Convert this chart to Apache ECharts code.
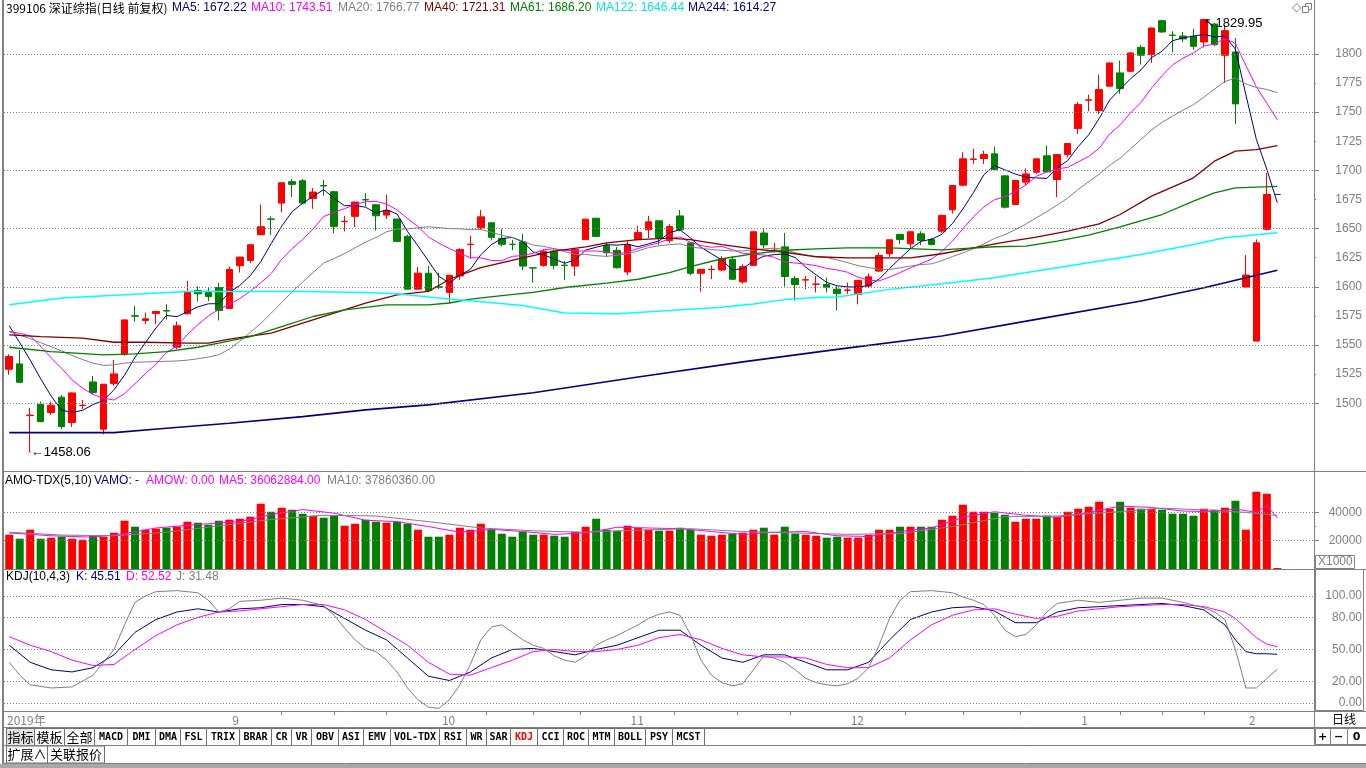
<!DOCTYPE html>
<html>
<head>
<meta charset="utf-8">
<script src="https://cdn.jsdelivr.net/npm/echarts/dist/echarts.min.js"></script>
<style>
html,body{margin:0;padding:0;background:#ffffff;overflow:hidden;}
#chart{width:1366px;height:768px;}
</style>
</head>
<body>
<div id="chart"></div>
<script>
// ---------------- trading calendar (categories) ----------------
const monthKeys = ['2019-08','2019-09','2019-10','2019-11','2019-12','2020-01','2020-02'];
const monthDays = [
  [2,5,6,7,8,9,12,13,14,15,16,19,20,21,22,23,26,27,28,29,30],
  [2,3,4,5,6,9,10,11,12,16,17,18,19,20,23,24,25,26,27,30],
  [8,9,10,11,14,15,16,17,18,21,22,23,24,25,28,29,30,31],
  [1,4,5,6,7,8,11,12,13,14,15,18,19,20,21,22,25,26,27,28,29],
  [2,3,4,5,6,9,10,11,12,13,16,17,18,19,20,23,24,25,26,27,30,31],
  [2,3,6,7,8,9,10,13,14,15,16,17,20,21,22,23],
  [3,4,5,6]
];
const categories = [];
monthKeys.forEach((m,k)=>monthDays[k].forEach(d=>categories.push(m+'-'+(d<10?'0'+d:d))));

// ---------------- price data (OHLC) ----------------
const opens = [1529.2,1533.8,1489.4,1499.1,1492.0,1505.2,1483.4,1498.0,1518.3,1477.7,
1516.9,1542.1,1575.2,1571.1,1577.1,1579.6,1548.1,1576.8,1596.8,1596.0,
1599.4,1581.4,1618.1,1622.6,1644.7,1658.3,1671.9,1690.3,1691.1,1675.9,
1687.0,1681.7,1656.0,1660.5,1675.0,1670.5,1661.6,1658.2,1643.3,1598.0,
1611.7,1600.0,1595.2,1609.3,1636.3,1650.7,1655.0,1641.6,1636.6,1638.5,
1616.3,1618.4,1630.6,1618.6,1617.8,1640.5,1658.9,1635.4,1631.4,1612.7,
1640.5,1649.0,1656.7,1639.7,1660.9,1637.7,1611.6,1614.8,1614.4,1623.5,
1604.2,1618.4,1646.2,1631.3,1634.3,1607.1,1605.8,1602.2,1602.0,1598.0,
1597.0,1593.5,1600.6,1613.5,1628.4,1645.0,1636.9,1645.5,1640.7,1647.8,
1666.1,1687.3,1709.4,1710.2,1714.2,1695.3,1670.7,1689.9,1698.5,1712.5,
1692.2,1713.6,1735.9,1760.3,1751.4,1772.3,1783.7,1785.1,1805.7,1799.4,
1828.6,1816.2,1815.4,1815.2,1810.3,1825.7,1798.9,1801.7,1599.8,1553.4,
1649.3,1679.3];
const closes = [1540.1,1518.0,1489.8,1484.2,1498.3,1479.9,1508.9,1498.3,1509.2,1516.3,
1525.2,1571.6,1574.8,1572.5,1578.8,1579.2,1566.5,1595.7,1594.0,1591.7,
1579.7,1614.9,1625.5,1636.1,1651.6,1658.0,1689.4,1688.0,1671.9,1681.4,
1686.6,1651.9,1656.3,1672.8,1674.6,1661.0,1665.6,1639.0,1598.0,1611.7,
1596.8,1599.6,1609.9,1632.0,1636.6,1660.1,1642.5,1636.5,1636.4,1617.8,
1616.1,1630.6,1618.4,1618.3,1632.0,1658.1,1643.3,1629.2,1616.4,1636.3,
1646.7,1655.8,1641.9,1651.8,1649.0,1611.6,1615.0,1615.1,1624.1,1606.5,
1617.3,1647.3,1636.0,1631.5,1608.8,1602.0,1606.1,1602.4,1599.7,1594.1,
1597.3,1605.5,1608.6,1626.9,1640.4,1640.7,1647.3,1639.8,1636.4,1661.3,
1687.0,1709.9,1709.8,1713.6,1700.7,1668.4,1691.3,1697.0,1709.9,1698.7,
1713.6,1723.1,1756.5,1760.6,1769.4,1792.3,1770.3,1800.9,1798.9,1822.3,
1818.9,1816.0,1812.9,1806.6,1829.5,1808.0,1820.0,1757.1,1610.1,1637.8,
1679.3,1679.3];
const lows = [1524.4,1518.0,1458.06,1483.6,1490.0,1477.7,1479.7,1495.1,1507.2,1473.3,
1514.9,1540.7,1570.2,1568.2,1567.9,1571.9,1546.4,1576.5,1587.4,1587.7,
1571.1,1581.1,1612.3,1620.3,1644.5,1644.7,1663.9,1677.1,1671.7,1667.0,
1678.2,1646.1,1647.6,1651.3,1669.1,1648.4,1658.2,1638.8,1597.8,1597.8,
1596.6,1598.0,1586.1,1606.0,1624.1,1649.0,1639.9,1634.8,1631.4,1614.4,
1603.7,1617.3,1615.0,1606.0,1609.3,1640.2,1643.0,1625.8,1615.6,1609.9,
1640.2,1641.9,1636.3,1637.7,1647.6,1609.9,1595.8,1606.5,1613.3,1606.0,
1602.8,1618.1,1633.4,1629.2,1600.3,1588.1,1598.0,1595.2,1595.2,1579.6,
1593.8,1584.9,1599.2,1612.6,1626.1,1636.9,1633.5,1635.8,1635.5,1646.4,
1663.0,1686.2,1705.6,1705.6,1700.5,1667.3,1670.1,1687.3,1697.0,1698.5,
1677.0,1711.3,1731.3,1750.8,1748.5,1772.0,1765.7,1784.6,1790.8,1792.3,
1818.0,1801.4,1810.3,1803.7,1805.7,1806.6,1775.1,1739.9,1599.6,1553.2,
1648.4,1679.3];
const highs = [1542.1,1545.8,1496.0,1501.4,1501.4,1506.9,1509.2,1502.9,1523.5,1516.6,
1537.2,1571.9,1583.7,1577.9,1579.1,1585.1,1570.2,1605.2,1600.3,1598.9,
1603.4,1617.5,1625.8,1636.4,1670.5,1660.5,1689.7,1692.6,1692.6,1684.8,
1692.0,1682.0,1661.0,1673.1,1680.5,1670.8,1679.1,1658.5,1644.7,1616.9,
1618.1,1612.2,1610.2,1633.1,1643.9,1666.0,1655.3,1649.6,1640.5,1645.6,
1616.5,1632.0,1632.0,1622.1,1633.4,1658.4,1659.2,1637.7,1634.3,1639.1,
1652.4,1660.9,1657.0,1654.1,1666.0,1638.0,1615.3,1618.4,1626.3,1626.3,
1619.3,1647.6,1649.6,1637.7,1646.2,1609.3,1609.3,1609.3,1607.9,1600.3,
1603.7,1605.8,1611.5,1629.2,1640.7,1645.5,1647.6,1647.8,1642.1,1662.1,
1687.3,1715.6,1718.5,1717.0,1720.5,1695.6,1691.6,1701.6,1710.2,1721.3,
1713.9,1723.4,1758.8,1765.1,1782.3,1792.6,1794.3,1801.4,1807.4,1822.6,
1829.5,1819.5,1818.9,1821.7,1829.95,1826.6,1824.6,1813.7,1627.2,1640.7,
1697.9,1679.3];

// ---------------- moving averages ----------------
const ma5 = [1566.5,1552,1537,1521,1506.1,1494.0,1492.2,1493.9,1498.9,1502.5,
1511.6,1524.1,1539.4,1552.1,1564.6,1575.4,1574.4,1578.5,1582.8,1585.4,
1585.5,1595.2,1601.2,1609.6,1621.6,1637.2,1652.1,1664.6,1671.8,1677.7,
1683.5,1676.0,1669.6,1669.8,1668.4,1663.3,1666.1,1662.6,1647.6,1635.1,
1622.2,1609.0,1603.2,1610.0,1615.0,1627.6,1636.2,1641.5,1642.4,1638.7,
1629.9,1627.5,1623.9,1620.2,1623.1,1631.5,1634.0,1636.2,1635.8,1636.7,
1634.4,1636.9,1639.4,1646.5,1649.0,1642.0,1633.9,1628.5,1623.0,1614.5,
1615.6,1622.1,1626.2,1627.7,1628.2,1625.1,1616.9,1610.2,1603.8,1600.9,
1599.9,1599.8,1601.0,1606.5,1615.7,1624.4,1632.8,1639.0,1640.9,1645.1,
1654.4,1666.9,1680.9,1696.3,1704.2,1700.5,1696.8,1694.2,1693.5,1693.1,
1702.1,1708.5,1720.4,1730.5,1744.6,1760.4,1769.8,1778.7,1786.4,1796.9,
1802.3,1811.4,1813.8,1815.3,1816.8,1814.6,1815.4,1804.2,1764.9,1726.6,
1700.9,1672.2];
const ma10 = [1561.6,1560,1557.9,1549,1539,1530,1520,1513,1507.5,1504.3,
1502.8,1508.2,1516.7,1525.5,1533.6,1543.5,1549.2,1559.0,1567.5,1575.0,
1580.5,1584.8,1589.9,1596.2,1603.5,1611.4,1623.7,1632.9,1640.7,1649.7,
1660.3,1664.0,1667.1,1670.8,1673.1,1673.4,1671.0,1666.1,1658.7,1651.8,
1642.8,1637.5,1632.9,1628.8,1625.0,1624.9,1622.6,1622.4,1626.2,1626.8,
1628.8,1631.9,1632.7,1631.3,1630.9,1630.7,1630.8,1630.0,1628.0,1629.9,
1632.9,1635.5,1637.8,1641.2,1642.9,1638.2,1635.4,1634.0,1634.7,1631.8,
1628.8,1628.0,1627.4,1625.3,1621.3,1620.4,1619.5,1618.2,1615.8,1614.5,
1612.5,1608.3,1605.6,1605.1,1608.3,1612.2,1616.3,1620.0,1623.7,1630.4,
1639.4,1649.8,1660.0,1668.6,1674.7,1677.4,1681.8,1687.5,1694.9,1698.6,
1701.3,1702.6,1707.3,1712.0,1718.9,1731.2,1739.1,1749.5,1758.4,1770.8,
1781.3,1790.6,1796.3,1800.9,1806.9,1808.4,1813.4,1809.0,1790.1,1771.7,
1757.7,1743.5];
const ma20 = [1561.6,1558.5,1555.5,1552,1548.5,1545,1541,1537.5,1534.4,1532.5,
1533,1534.5,1535.2,1535.5,1535.8,1536,1536.3,1537,1538.2,1539.7,
1541.6,1546.5,1553.3,1560.9,1568.5,1577.4,1586.5,1595.9,1604.1,1612.3,
1620.4,1624.4,1628.5,1633.5,1638.3,1642.4,1647.3,1649.5,1649.7,1650.7,
1651.6,1650.8,1650.0,1649.8,1649.1,1649.2,1646.8,1644.2,1642.5,1639.3,
1635.8,1634.7,1632.8,1630.1,1627.9,1627.8,1626.7,1626.2,1627.1,1628.3,
1630.8,1633.7,1635.3,1636.2,1636.9,1634.4,1633.1,1632.0,1631.4,1630.8,
1630.9,1631.7,1632.6,1633.2,1632.1,1629.3,1627.4,1626.1,1625.2,1623.1,
1620.7,1618.2,1616.5,1615.2,1614.8,1616.3,1617.9,1619.1,1619.7,1622.5,
1626.0,1629.1,1632.8,1636.9,1641.5,1644.8,1649.1,1653.8,1659.3,1664.5,
1670.3,1676.2,1683.6,1690.3,1696.8,1704.3,1710.5,1718.5,1726.7,1734.7,
1741.3,1746.6,1751.8,1756.4,1762.9,1769.8,1776.3,1779.3,1774.3,1771.2,
1769.5,1766.8];
// long averages: [bar index, value] pairs
const ma40 = [[0,1558.7],[3,1557.3],[7,1555.9],[10,1552.4],[13,1552.4],[17,1551.6],[19,1551.6],[21,1555],[25,1560.2],[28,1568.8],[31,1577.4],[34,1586],[37,1593.1],[40,1596],[42,1606.5],[45,1616.4],[49,1624.9],[52,1630.6],[55,1634.3],[57,1637.7],[60,1640.5],[63,1641.9],[65,1640.5],[68,1636.3],[71,1632.6],[74,1629.7],[77,1625.8],[80,1624.9],[82,1624.9],[86,1624.9],[89,1628.4],[92,1633.5],[95,1638.4],[98,1642.7],[101,1647.8],[104,1654.1],[106,1662.1],[109,1677.9],[113,1693.6],[115,1707.9],[117,1716.5],[119,1717.9],[121,1721.3]];
const ma61 = [[0,1548.1],[4,1544.4],[9,1541.5],[12,1542.4],[15,1544.4],[18,1548.1],[20,1551.6],[23,1557.3],[26,1565.9],[29,1574.5],[32,1580.2],[36,1584.5],[40,1584.5],[42,1586.1],[44,1589.5],[47,1592.4],[50,1595.2],[53,1599.4],[57,1603.1],[60,1606.5],[63,1612.2],[65,1617.3],[68,1624.1],[71,1628.3],[74,1631.4],[77,1632.6],[80,1633.4],[84,1633.5],[89,1631.8],[94,1634.4],[97,1634.9],[100,1639.2],[103,1644.4],[106,1651.5],[110,1662.1],[113,1673.6],[115,1680.7],[117,1685],[121,1686.2]];
const ma122 = [[0,1584.5],[5,1590.3],[12,1593.7],[17,1596],[21,1596],[28,1596],[34,1595.2],[37,1594.1],[40,1591.2],[42,1589.5],[44,1588.1],[49,1583.9],[53,1577.6],[58,1576.8],[63,1579.6],[68,1582.4],[71,1585.3],[74,1589],[77,1590.9],[79,1591.2],[84,1597.8],[89,1602.6],[94,1607.8],[98,1613.5],[103,1620.7],[108,1627.8],[113,1636.4],[116,1642.1],[121,1646.4]];
const ma244 = [[0,1474.8],[10,1474.8],[15,1478.5],[21,1482.8],[28,1488.5],[34,1494.3],[40,1498.6],[50,1509],[60,1522.5],[70,1535.5],[79,1546.3],[89,1557.7],[98,1572],[108,1587.8],[114,1599.2],[121,1614.3]];

// ---------------- amount (x1000) ----------------
const amount = [24240,21410,27770,21410,22120,22830,21410,20700,23530,22830,
25650,34130,29890,27770,28480,29190,29890,33430,32720,31310,
34130,34840,35550,36960,46150,40490,43320,41910,39080,37670,
36260,37670,30600,32010,34840,33430,32720,33430,32010,27770,
22830,22830,24240,29190,27770,32010,27770,24950,22830,26360,
24240,24240,23530,22830,26360,29890,35550,27770,27070,30600,
29190,27770,27070,27070,29190,27770,24240,23530,24240,24950,
25650,27770,29190,24240,29890,24950,24240,23530,22120,22830,
22120,22120,24240,27770,27770,29890,29890,29890,29890,34840,
37670,45440,40490,40490,39790,38370,33430,35550,35550,37670,
36960,40490,42610,44030,47560,42610,47560,43320,42610,42610,
41910,39080,39080,37670,42610,41910,43320,48270,27770,54630,
53220,0];
const amoMa5 = [[0,25500],[4,23500],[8,22500],[11,25000],[14,29000],[18,31500],[22,33500],[25,38500],[28,42000],[31,39500],[34,34500],[37,33500],[40,30000],[43,26000],[46,28000],[49,26500],[52,24500],[55,25500],[58,29500],[61,29000],[64,28500],[67,26500],[70,24500],[73,26000],[76,26500],[79,23500],[82,23000],[85,26500],[88,29000],[91,36500],[94,40500],[97,38000],[100,36500],[103,40000],[106,44500],[109,43500],[112,41000],[115,40500],[117,42500],[119,40000],[120,45000],[121,36063]];
const amoMa10 = [[0,26000],[5,24000],[10,23500],[15,26000],[20,30500],[25,35000],[30,38000],[35,37500],[40,33500],[45,29000],[50,27000],[55,26000],[60,27500],[65,28500],[70,26500],[75,25500],[80,24500],[85,25000],[90,30000],[95,37000],[100,37500],[105,40000],[110,43000],[115,41500],[118,40000],[121,37860]];

// ---------------- KDJ ----------------
const kdjK = [[0,54],[2,38],[4,31],[6,29],[8,33],[10,45],[12,66],[14,78],[16,85],[18,88],[20,85],[22,88],[24,89],[26,92],[28,92],[30,90],[32,79],[34,68],[36,59],[38,42],[40,25],[42,21],[44,29],[46,42],[48,50],[50,51],[52,48],[54,45],[56,50],[58,54],[60,61],[62,68],[64,68],[66,54],[68,42],[70,38],[72,45],[74,45],[76,38],[78,31],[80,31],[82,38],[84,59],[86,78],[88,85],[90,89],[92,90],[94,86],[96,75],[98,75],[100,85],[102,89],[104,90],[106,91],[108,92],[110,93],[112,91],[114,87],[116,73],[117,59],[118,48],[119,46],[120,46],[121,45.51]];
const kdjD = [[0,62],[2,54],[4,48],[6,40],[8,35],[10,36],[12,50],[14,63],[16,73],[18,80],[20,85],[22,86],[24,88],[26,90],[28,92],[30,92],[32,87],[34,78],[36,66],[38,54],[40,38],[42,27],[44,26],[46,33],[48,40],[50,48],[52,50],[54,48],[56,48],[58,50],[60,54],[62,61],[64,64],[66,59],[68,51],[70,45],[72,43],[74,43],[76,42],[78,36],[80,33],[82,33],[84,42],[86,59],[88,73],[90,82],[92,87],[94,88],[96,83],[98,79],[100,81],[102,86],[104,88],[106,90],[108,91],[110,92],[112,92],[114,90],[116,85],[117,79],[118,70],[119,61],[120,55],[121,52.52]];
const kdjJ = [[0,38],[1,26],[2,17],[4,14],[6,15],[8,26],[10,50],[11,73],[12,94],[13,100],[14,104],[16,105],[18,103],[19,96],[20,85],[21,88],[22,95],[24,96],[26,98],[28,96],[30,91],[31,82],[32,70],[33,59],[34,51],[35,48],[36,40],[37,29],[38,14],[39,3],[40,-4],[41,-5],[42,3],[43,17],[44,36],[45,59],[46,71],[47,73],[48,66],[49,59],[50,54],[51,51],[52,44],[53,40],[54,38],[55,44],[56,54],[57,59],[58,63],[59,68],[60,73],[61,79],[62,83],[63,85],[64,82],[65,64],[66,40],[67,26],[68,19],[69,16],[70,18],[71,31],[72,44],[73,42],[74,38],[75,31],[76,23],[77,19],[78,17],[79,16],[80,18],[81,23],[82,33],[83,54],[84,79],[85,96],[86,104],[88,105],[90,103],[91,99],[92,96],[93,92],[94,82],[95,68],[96,62],[97,64],[98,73],[99,85],[100,93],[102,96],[104,94],[106,96],[108,98],[110,98],[112,94],[114,89],[115,85],[116,78],[117,50],[118,14],[119,14],[120,23],[121,31.48]];

// ---------------- axis ticks / labels ----------------
const priceLabels = [1500,1525,1550,1575,1600,1625,1650,1675,1700,1725,1750,1775,1800];
const priceMajor = [1500,1550,1600,1650,1700,1750,1800];
const amountLabels = [20000,40000];
const amountMinor = [30000];
const kdjLabels = [0,20,50,80,100];
const monthTickIdx = [21,41,59,80,102,118];
const monthLabelIdx = [-0.5,21,41,59,80,102,118];
const monthLabelText = ['2019年','9','10','11','12','1','2'];
const weekTickIdx = [26,31,36,45.5,50,54.5,63.5,69.5,74.5,85.5,91,96.5,106,110,114];

['opens','closes','lows','highs','ma5','ma10','ma20','amount'].forEach(n=>{
  const a = eval(n); if (a.length !== categories.length) throw new Error(n+' length '+a.length+' vs '+categories.length);
});

// ---------------- build ----------------
const RED = '#FF0000', GREEN = '#008000', GRAY = '#808080';
const slots = categories.concat([' ','  ','   ']);
const candleData = opens.map((o,i)=>[o, closes[i], lows[i], highs[i]]);
const amountData = amount.map((v,i)=>({value:v, itemStyle:{color: closes[i] >= opens[i] ? RED : GREEN}}));
const LEFT = 4, RIGHT = 52;
const FONT = '"Liberation Sans", Arial, sans-serif';
const CJK = '"Noto Sans CJK SC", "Liberation Sans", sans-serif';

function lineSeries(name, data, color, xi, yi, width) {
  return {name, type:'line', xAxisIndex:xi, yAxisIndex:yi, data, symbol:'none', smooth:false,
    lineStyle:{color, width: width || 1}, itemStyle:{color}, silent:true, z:3};
}
function dotted(vals, key) {
  return {silent:true, symbol:['none','none'], label:{show:false},
    lineStyle:{type:[1,2], color:GRAY, width:1}, data: vals.map(v=>({[key]:v}))};
}

const g = [];
function txt(x, y, t, color, font, align) {
  g.push({type:'text', x, y, z:50, style:{text:t, fill:color, font:font || ('12px ' + FONT),
    align: align || 'left', verticalAlign:'middle', textAlign: align || 'left', textVerticalAlign:'middle'}});
}
function hline(y, x0, x1, color) {
  g.push({type:'line', z:40, shape:{x1:x0, y1:y, x2:x1, y2:y}, style:{stroke: color || GRAY, lineWidth:1}});
}
function vline(x, y0, y1, color) {
  g.push({type:'line', z:40, shape:{x1:x, y1:y0, x2:x, y2:y1}, style:{stroke: color || GRAY, lineWidth:1}});
}
function box(x, y, w, h, fill, stroke) {
  g.push({type:'rect', z:39, shape:{x, y, width:w, height:h}, style:{fill: fill || 'none', stroke: stroke || GRAY, lineWidth:1}});
}

// headers
txt(6, 8, '399106 深证综指(日线 前复权)', '#000', '12px ' + CJK);
[[172,'MA5: 1672.22','#000080'],[251,'MA10: 1743.51','#FF00FF'],[338,'MA20: 1766.77',GRAY],
 [424,'MA40: 1721.31','#800000'],[510,'MA61: 1686.20','#008000'],[596,'MA122: 1646.44','#00E8E8'],
 [688,'MA244: 1614.27','#000080']].forEach(a=>txt(a[0], 8, a[1], a[2]));
[[5,'AMO-TDX(5,10)','#000'],[94,'VAMO: -','#000080'],[146,'AMOW: 0.00','#FF00FF'],
 [219,'MA5: 36062884.00','#FF00FF'],[327,'MA10: 37860360.00',GRAY]].forEach(a=>txt(a[0], 481, a[1], a[2]));
[[6,'KDJ(10,4,3)','#000'],[76,'K: 45.51','#000080'],[126,'D: 52.52','#FF00FF'],
 [176,'J: 31.48',GRAY]].forEach(a=>txt(a[0], 577, a[1], a[2]));

// top-right icons
txt(1292, 8, '◇', GRAY, '12px "DejaVu Sans"');
box(1305.5, 3.5, 6, 6, '#fff', GRAY); box(1302.5, 6.5, 6, 6, '#fff', GRAY);

// frame
g.push({type:'rect', z:41, shape:{x:2, y:0, width:2, height:764}, style:{fill:GRAY}});
vline(1314.5, 0, 745);
hline(471.5, 4, 1366); hline(569.5, 4, 1366); hline(711.5, 4, 1366);
hline(727.5, 4, 1366); hline(745.5, 4, 1366); hline(763.5, 4, 1366);
g.push({type:'rect', z:41, shape:{x:0, y:764, width:1366, height:4}, style:{fill:'#a8a8a8'}});
box(1315.5, 555.5, 39, 13, '#fff', GRAY);
txt(1318, 562, 'X1000', GRAY, '12px ' + FONT);
box(1315.5, 569.5, 48, 141, 'none', GRAY);
txt(1344, 719, '日线', '#000', '12px ' + CJK, 'center');
[[1315,1330,'+'],[1330,1347,'−'],[1347,1366,'0']].forEach(c=>{
  box(c[0]+0.5, 728.5, c[1]-c[0], 16, '#fff', GRAY);
  txt((c[0]+c[1])/2, 737, c[2], '#000', 'bold 11px "DejaVu Sans"', 'center');
});

// tabs
const tabNames = ['指标','模板','全部','MACD','DMI','DMA','FSL','TRIX','BRAR','CR','VR','OBV','ASI','EMV','VOL-TDX','RSI','WR','SAR','KDJ','CCI','ROC','MTM','BOLL','PSY','MCST'];
const tabEdges = [6,34,64,94,127,155,180,206,239,271,291,311,338,363,390,439,466,486,510,537,563,588,614,645,672,704];
tabNames.forEach((t,k)=>{
  const x0 = tabEdges[k], x1 = tabEdges[k+1];
  box(x0+0.5, 728.5, x1-x0, 17, k===0 ? '#e4e4e4' : '#fff', '#707070');
  const cjk = /[\u4e00-\u9fff]/.test(t);
  txt((x0+x1)/2+0.5, 737.5, t, t==='KDJ' ? RED : '#000',
      cjk ? '13px ' + CJK : 'bold 10px "DejaVu Sans Mono", monospace', 'center');
});
box(704.5, 728.5, 610, 17, '#fff', '#707070');
box(6.5, 746, 41, 17, '#fff', '#707070'); txt(27, 754.5, '扩展∧', '#000', '13px ' + CJK, 'center');
box(47.5, 746, 57, 17, '#fff', '#707070'); txt(76, 754.5, '关联报价', '#000', '13px ' + CJK, 'center');

const hiddenCat = (gi)=>({type:'category', gridIndex:gi, data:slots, boundaryGap:true, show:false});
const plain = (v)=>String(v);

const option = {
  animation:false,
  backgroundColor:'#ffffff',
  grid:[
    {left:LEFT, right:RIGHT, top:16, height:455},
    {left:LEFT, right:RIGHT, top:471, height:98},
    {left:LEFT, right:RIGHT, top:569, height:142},
    {left:LEFT, right:RIGHT, top:711, height:16}
  ],
  xAxis:[
    hiddenCat(0), hiddenCat(1), hiddenCat(2),
    {type:'value', gridIndex:3, min:-0.5, max:slots.length-0.5, position:'top',
      axisLine:{show:false}, splitLine:{show:false},
      axisTick:{show:true, inside:true, length:16, customValues:monthTickIdx, lineStyle:{color:GRAY}},
      axisLabel:{show:true, inside:true, margin:3, customValues:monthLabelIdx, align:'left', padding:[0,0,0,3],
        color:GRAY, fontSize:12, fontFamily:CJK,
        formatter:(v)=>{const k = monthLabelIdx.indexOf(v); return k>=0 ? monthLabelText[k] : '';}}},
    {type:'value', gridIndex:3, min:-0.5, max:slots.length-0.5, position:'top',
      axisLine:{show:false}, splitLine:{show:false}, axisLabel:{show:false},
      axisTick:{show:true, inside:true, length:4, customValues:weekTickIdx, lineStyle:{color:GRAY}}}
  ],
  yAxis:[
    {type:'value', gridIndex:0, position:'right', min:1441.8, max:1832.6,
      axisLine:{show:false}, splitLine:{show:false},
      axisTick:{show:true, length:2, customValues:priceLabels, lineStyle:{color:GRAY}},
      axisLabel:{show:true, customValues:priceLabels, formatter:plain, align:'right', margin:48, color:GRAY, fontSize:12, fontFamily:FONT}},
    {type:'value', gridIndex:0, position:'right', min:1441.8, max:1832.6,
      axisLine:{show:false}, splitLine:{show:false}, axisLabel:{show:false},
      axisTick:{show:true, length:5, customValues:priceMajor, lineStyle:{color:GRAY}}},
    {type:'value', gridIndex:1, position:'right', min:0, max:69300,
      axisLine:{show:false}, splitLine:{show:false},
      axisTick:{show:true, length:5, customValues:amountLabels, lineStyle:{color:GRAY}},
      axisLabel:{show:true, customValues:amountLabels, formatter:plain, align:'right', margin:48, color:GRAY, fontSize:12, fontFamily:FONT}},
    {type:'value', gridIndex:1, position:'right', min:0, max:69300,
      axisLine:{show:false}, splitLine:{show:false}, axisLabel:{show:false},
      axisTick:{show:true, length:2, customValues:amountMinor, lineStyle:{color:GRAY}}},
    {type:'value', gridIndex:2, position:'right', min:-7.5, max:125.2,
      axisLine:{show:false}, splitLine:{show:false}, axisTick:{show:false},
      axisLabel:{show:true, customValues:kdjLabels, align:'right', margin:48, color:GRAY, fontSize:12, fontFamily:FONT,
        formatter:(v)=>Number(v).toFixed(2)}},
    {type:'value', gridIndex:3, min:0, max:1, show:false}
  ],
  graphic: g,
  series:[
    {name:'K线', type:'candlestick', xAxisIndex:0, yAxisIndex:0, data:candleData, barWidth:7,
      itemStyle:{color:RED, color0:GREEN, borderColor:RED, borderColor0:GREEN, borderColorDoji:'#303030', borderWidth:1},
      markLine: dotted(priceMajor, 'yAxis'),
      markPoint:{symbol:'circle', symbolSize:1, silent:true, itemStyle:{color:'#000'},
        label:{show:true, color:'#000', fontSize:13, fontFamily:FONT, position:'right', distance:0},
        data:[
          {coord:[categories[2], lows[2]], value:lows[2], label:{formatter:'←' + lows[2].toFixed(2), offset:[0,0]}},
          {coord:[categories[114], highs[114]], value:highs[114], label:{formatter:'↖' + highs[114].toFixed(2), offset:[0,4]}}
        ]}},
    lineSeries('MA5', ma5, '#000080', 0, 0),
    lineSeries('MA10', ma10, '#FF00FF', 0, 0),
    lineSeries('MA20', ma20, GRAY, 0, 0),
    lineSeries('MA40', ma40, '#800000', 0, 0, 1.3),
    lineSeries('MA61', ma61, '#008000', 0, 0, 1.3),
    lineSeries('MA122', ma122, '#00FFFF', 0, 0, 1.5),
    lineSeries('MA244', ma244, '#000080', 0, 0, 1.6),
    {name:'AMO', type:'bar', xAxisIndex:1, yAxisIndex:2, data:amountData, barWidth:8, barMinHeight:1,
      markLine: dotted(amountLabels, 'yAxis')},
    lineSeries('AMO MA5', amoMa5, '#FF00FF', 1, 2),
    lineSeries('AMO MA10', amoMa10, GRAY, 1, 2),
    Object.assign(lineSeries('K', kdjK, '#000080', 2, 4), {markLine: dotted(kdjLabels, 'yAxis')}),
    lineSeries('D', kdjD, '#FF00FF', 2, 4),
    lineSeries('J', kdjJ, GRAY, 2, 4)
  ]
};
const chart = echarts.init(document.getElementById('chart'), null, {renderer:'canvas', width:1366, height:768});
chart.setOption(option);
</script>
</body>
</html>
